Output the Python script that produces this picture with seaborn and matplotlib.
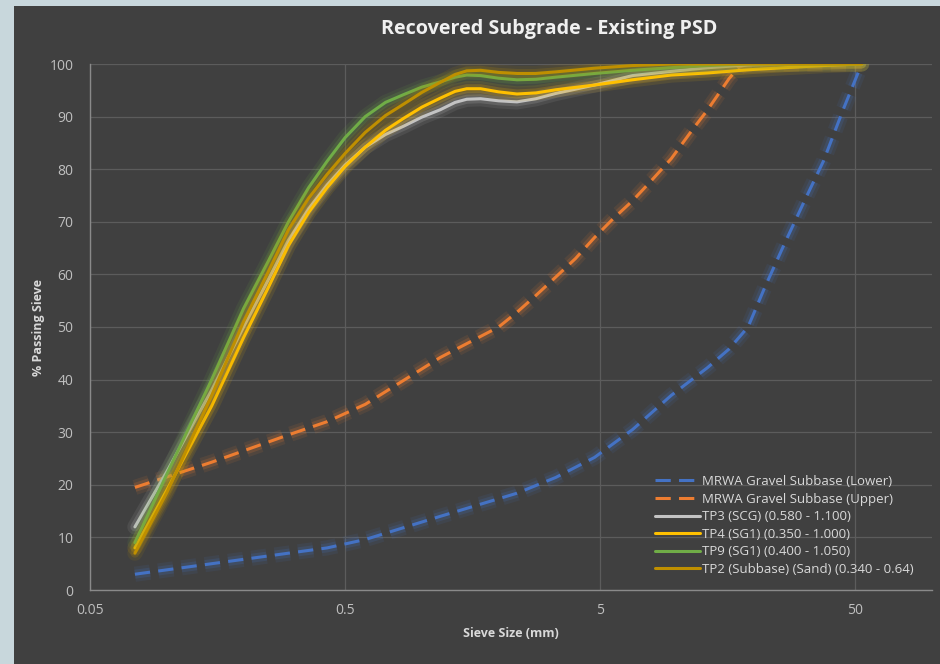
import matplotlib
matplotlib.use("Agg")
import matplotlib.pyplot as plt
import matplotlib.patheffects as pe
from matplotlib.patches import Rectangle
from matplotlib.ticker import FixedLocator, FixedFormatter, NullLocator
import seaborn as sns

# MRWA gravel subbase grading envelope (sieve mm, % passing)
lower_sieve = [0.075, 0.15, 0.3, 0.425, 0.6, 1.18, 2.36, 3.35, 4.75, 6.7, 9.5, 13.2, 16,
               19, 22, 26.5, 32, 37.5, 45, 53]
lower_pass = [3, 5, 7, 8, 9.6, 14, 18.4, 21.4, 25.2, 30.5, 37, 42.3, 45.8,
              50, 57.3, 66, 74.5, 81.5, 91.5, 100]
upper_sieve = [0.075, 0.15, 0.3, 0.425, 0.6, 1.18, 2.0, 2.36, 2.8, 3.35, 4.0, 4.75, 5.6,
               6.7, 8.0, 9.5, 11.5, 13.2, 16, 17.5, 19, 26.5, 37.5, 53]
upper_pass = [19.5, 24.3, 29.5, 32, 35.3, 44.2, 50, 52.8, 56, 59.5, 63, 67, 70.5,
              74, 78, 82, 87.5, 91.3, 97.2, 99.4, 100, 100, 100, 100]

# test pit PSD curves
tp_sieve = [0.075, 0.1, 0.15, 0.2, 0.25, 0.3, 0.36, 0.425, 0.5, 0.6, 0.72, 0.85,
            1.0, 1.18, 1.35, 1.5, 1.7, 2.0, 2.36, 2.8, 3.35, 4.75, 6.7, 9.5, 13.2,
            19, 26.5, 37.5, 53]
tp3 = [12, 22.5, 38, 50, 59, 66.5, 72.5, 77, 80.8, 84.2, 86.6, 88.2,
       89.9, 91.3, 92.7, 93.3, 93.4, 93.0, 92.8, 93.4, 94.4, 96, 97.8, 98.6, 99.3,
       99.8, 100, 100, 100]
tp4 = [8, 19, 35, 48, 57.5, 65.5, 71.8, 76.5, 80.5, 84.2, 87.4, 89.7,
       91.8, 93.5, 94.8, 95.3, 95.3, 94.7, 94.3, 94.5, 95.1, 96, 97, 97.9, 98.3,
       98.9, 99.3, 99.7, 100]
tp9 = [9, 22, 40, 53.5, 62.5, 70, 76.5, 81.5, 86, 90, 92.7, 94.2,
       95.6, 96.6, 97.5, 97.9, 97.8, 97.3, 97.0, 97.1, 97.5, 98.2, 98.8, 99.3, 99.7,
       100, 100, 100, 100]
tp2 = [7, 18.5, 37, 51, 60.5, 68.5, 74.5, 79, 83, 87, 90.2, 92.4,
       94.6, 96.5, 98.0, 98.7, 98.8, 98.4, 98.2, 98.2, 98.5, 99.2, 99.7, 100, 100,
       100, 100, 100, 100]

x_ticks = [0.05, 0.5, 5, 50]
x_tick_labels = ["0.05", "0.5", "5", "50"]

series = [
    ("MRWA Gravel Subbase (Lower)", lower_sieve, lower_pass, "#4472c4", True),
    ("MRWA Gravel Subbase (Upper)", upper_sieve, upper_pass, "#ed7d31", True),
    ("TP3 (SCG) (0.580 - 1.100)", tp_sieve, tp3, "#c3c3c3", False),
    ("TP4 (SG1) (0.350 - 1.000)", tp_sieve, tp4, "#ffc000", False),
    ("TP9 (SG1) (0.400 - 1.050)", tp_sieve, tp9, "#70ad47", False),
    ("TP2 (Subbase) (Sand) (0.340 - 0.64)", tp_sieve, tp2, "#bf8f00", False),
]

panel = "#404040"
text_col = "#d9d9d9"
tick_col = "#bfbfbf"

sns.set_theme(style="dark")
plt.rcParams["font.family"] = ["Open Sans", "DejaVu Sans"]
plt.rcParams["lines.solid_joinstyle"] = "round"
plt.rcParams["lines.dash_joinstyle"] = "round"

fig = plt.figure(figsize=(9.4, 6.64), dpi=100, facecolor="#c8d7dc")
fig.patches.append(Rectangle((14 / 940, 0), 1, 1 - 6 / 664, transform=fig.transFigure,
                             facecolor=panel, edgecolor="none", zorder=-5))

ax = fig.add_axes([90 / 940, 1 - 590 / 664, (932 - 90) / 940, (590 - 64) / 664])
ax.set_facecolor(panel)

for label, xs, ys, col, dashed in series:
    ls = (0, (5, 2.7)) if dashed else "-"
    sns.lineplot(x=xs, y=ys, ax=ax, color=col, linewidth=2.2, linestyle=ls,
                 label=label, sort=False)

ax.set_xscale("log")
ax.set_xlim(0.05, 100)
ax.set_ylim(0, 100)
ax.xaxis.set_major_locator(FixedLocator(x_ticks))
ax.xaxis.set_major_formatter(FixedFormatter(x_tick_labels))
ax.xaxis.set_minor_locator(NullLocator())
ax.set_yticks(range(0, 101, 10))

ax.grid(True, color="#5c5c5c", linewidth=0.9)
ax.tick_params(colors=tick_col, labelsize=10, length=0)
ax.tick_params(axis="y", pad=12)
ax.tick_params(axis="x", pad=9)
for side in ["top", "right"]:
    ax.spines[side].set_visible(False)
for side in ["left", "bottom"]:
    ax.spines[side].set_visible(True)
    ax.spines[side].set_color("#8a8a8a")
    ax.spines[side].set_linewidth(1.0)

ax.set_xlabel("Sieve Size (mm)", color=text_col, fontsize=9, fontweight="bold", labelpad=7)
ax.set_ylabel("% Passing Sieve", color=text_col, fontsize=9, fontweight="bold", labelpad=3)
fig.text(549 / 940, 1 - 29 / 664, "Recovered Subgrade - Existing PSD", color="#f0f0f0",
         fontsize=14.2, fontweight="bold", ha="center", va="center")

leg = ax.legend(loc="upper left", bbox_to_anchor=(655 / 940, 1 - 475 / 664),
                bbox_transform=fig.transFigure, frameon=False, fontsize=9.5,
                handlelength=3.4, handletextpad=0.2, labelspacing=0.35,
                borderpad=0, borderaxespad=0)
for t in leg.get_texts():
    t.set_color(text_col)

# soft glow round each curve, added after the legend so the keys stay plain
for line in ax.lines:
    c = line.get_color()
    line.set_path_effects([
        pe.Stroke(linewidth=11, foreground=c, alpha=0.10),
        pe.Stroke(linewidth=6.5, foreground=c, alpha=0.18),
        pe.Normal(),
    ])

fig.savefig("out.png", dpi=100, facecolor=fig.get_facecolor())
